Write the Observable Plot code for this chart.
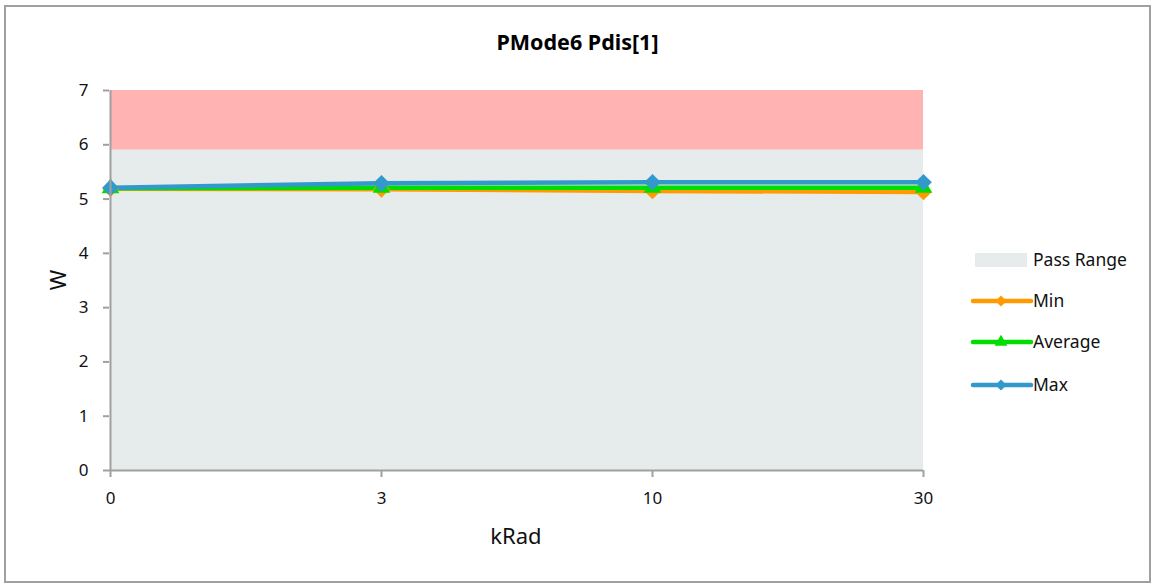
<!DOCTYPE html>
<html><head><meta charset="utf-8">
<script src="https://cdn.jsdelivr.net/npm/d3@7"></script>
<script src="https://cdn.jsdelivr.net/npm/@observablehq/plot@0.6"></script>
<style>
body{margin:0;background:#fff;}
#wrap{position:relative;width:1155px;height:585px;font-family:"Noto Sans",sans-serif;color:#111;overflow:hidden}
#border{position:absolute;left:4px;top:5px;width:1147px;height:578px;border:2px solid #a0a0a0;box-sizing:border-box;pointer-events:none}
#title{position:absolute;top:27px;left:0;width:1155px;text-align:center;font-weight:bold;font-size:21.5px;color:#000}
#ylab{position:absolute;left:57px;top:280px;font-size:22px;transform:translate(-50%,-50%) rotate(-90deg);}
#xlab{position:absolute;left:516px;top:535px;font-size:22px;transform:translate(-50%,-50%);}
#legend{position:absolute;left:965px;top:240px}
#chart{position:absolute;left:0;top:0}
</style></head><body>
<div id="wrap">
<div id="chart"></div>
<div id="title"></div>
<div id="ylab"></div>
<div id="xlab"></div>
<div id="legend"></div>
<div id="border"></div>
</div>
<script>
const titleText = "PMode6 Pdis[1]";
const xTitle = "kRad";
const yTitle = "W";
const doses = ["0", "3", "10", "30"];
const minVals = [5.19, 5.18, 5.15, 5.13];
const avgVals = [5.20, 5.21, 5.21, 5.21];
const maxVals = [5.21, 5.29, 5.31, 5.31];
const passLow = 0, passHigh = 5.9, failHigh = 7;
const yTicks = [0, 1, 2, 3, 4, 5, 6, 7];
const seriesNames = ["Pass Range", "Min", "Average", "Max"];
const colors = {pass: "#E6ECEC", fail: "#FFB3B3", Min: "#FF9A00", Average: "#00DD00", Max: "#3399CC"};
const symbols = {Min: "diamond2", Average: "triangle", Max: "diamond2"};

document.getElementById("title").textContent = titleText;
document.getElementById("ylab").textContent = yTitle;
document.getElementById("xlab").textContent = xTitle;

const rows = doses.map((d, i) => ({dose: d, Min: minVals[i], Average: avgVals[i], Max: maxVals[i]}));
const series = ["Min", "Average", "Max"];
const long = series.flatMap(s => rows.map(r => ({dose: r.dose, series: s, value: r[s]})));

const marks = [
  Plot.areaY(doses, {x: d => d, y1: passHigh, y2: failHigh, fill: colors.fail}),
  Plot.areaY(doses, {x: d => d, y1: passLow, y2: passHigh, fill: colors.pass}),
];
for (const s of series) {
  const data = long.filter(d => d.series === s);
  marks.push(Plot.line(data, {x: "dose", y: "value", stroke: colors[s], strokeWidth: 4.5}));
}
for (const s of series) {
  const data = long.filter(d => d.series === s);
  marks.push(Plot.dot(data, {x: "dose", y: "value", fill: colors[s], symbol: symbols[s], r: s === "Average" ? 6.5 : 7.5}));
}
marks.push(
  Plot.ruleY([0], {stroke: "#a0a0a0", strokeWidth: 2}),
  Plot.ruleX([doses[0]], {stroke: "#a0a0a0", strokeWidth: 2}),
  Plot.axisY({ticks: yTicks, tickFormat: d3.format("d"), tickSize: 6, tickPadding: 15, stroke: "#a0a0a0", strokeWidth: 2, label: null, fontSize: 17}),
  Plot.axisX({tickSize: 7, tickPadding: 14, stroke: "#a0a0a0", strokeWidth: 2, label: null, fontSize: 17})
);

const chart = Plot.plot({
  width: 1155, height: 585,
  marginLeft: 109, marginRight: 232, marginTop: 90, marginBottom: 115,
  style: {fontFamily: "Noto Sans", fontSize: "17px", color: "#111", background: "transparent"},
  x: {type: "point", domain: doses, padding: 0},
  y: {domain: [0, 7]},
  marks
});
document.getElementById("chart").appendChild(chart);

// legend
const lg = d3.select("#legend").append("svg").attr("width", 190).attr("height", 165)
  .style("font-family", "Noto Sans").style("font-size", "17.5px");
lg.append("rect").attr("x", 10).attr("y", 13).attr("width", 52).attr("height", 14).attr("fill", colors.pass);
lg.append("text").attr("x", 68).attr("y", 26).attr("fill", "#111").text(seriesNames[0]);
series.forEach((s, i) => {
  const y = [61, 102, 145][i];
  lg.append("line").attr("x1", 8).attr("x2", 66).attr("y1", y).attr("y2", y)
    .attr("stroke", colors[s]).attr("stroke-width", 4.5).attr("stroke-linecap", "round");
  const sym = s === "Average" ? d3.symbolTriangle : d3.symbolDiamond2;
  lg.append("path").attr("d", d3.symbol(sym, s === "Average" ? 70 : 80)())
    .attr("transform", `translate(36,${y})`).attr("fill", colors[s]);
  lg.append("text").attr("x", 68).attr("y", y + 6).attr("fill", "#111").text(seriesNames[i + 1]);
});
</script>
</body></html>
